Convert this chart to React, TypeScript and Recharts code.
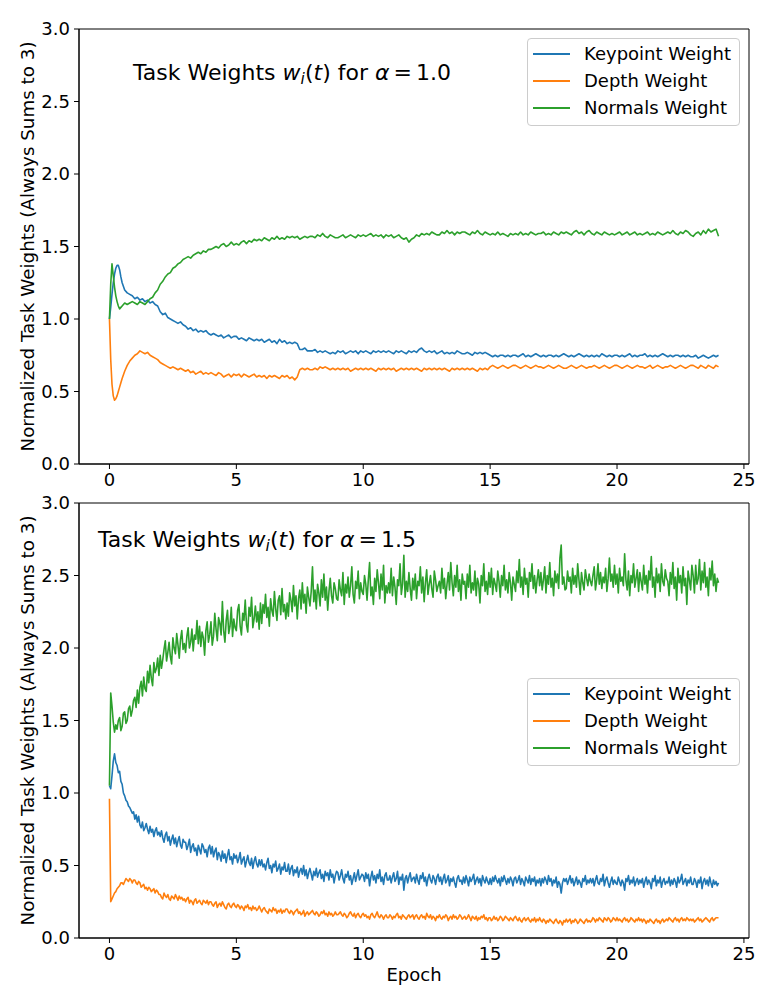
import React from "react"
import { LineChart, Line, XAxis, YAxis, ReferenceArea } from "recharts"

// ---- α = 1.0 run (top panel) ----
const TOP_EPOCHS = [
  0, 0.05, 0.1, 0.15, 0.2, 0.25, 0.3, 0.35, 0.4, 0.45, 0.5, 0.6, 0.7, 0.8, 0.9,
  1, 1.1, 1.2, 1.3, 1.4, 1.5, 1.6, 1.7, 1.8, 1.9,
  2, 2.1, 2.2, 2.3, 2.4, 2.5, 2.6, 2.7, 2.8, 2.9,
  3, 3.1, 3.2, 3.3, 3.4, 3.5, 3.6, 3.7, 3.8, 3.9,
  4, 4.1, 4.2, 4.3, 4.4, 4.5, 4.6, 4.7, 4.8, 4.9,
  5, 5.1, 5.2, 5.3, 5.4, 5.5, 5.6, 5.7, 5.8, 5.9,
  6, 6.1, 6.2, 6.3, 6.4, 6.5, 6.6, 6.7, 6.8, 6.9,
  7, 7.1, 7.2, 7.3, 7.4, 7.5, 7.6, 7.7, 7.8, 7.9,
  8, 8.1, 8.2, 8.3, 8.4, 8.5, 8.6, 8.7, 8.8, 8.9,
  9, 9.1, 9.2, 9.3, 9.4, 9.5, 9.6, 9.7, 9.8, 9.9,
  10, 10.1, 10.2, 10.3, 10.4, 10.5, 10.6, 10.7, 10.8, 10.9,
  11, 11.1, 11.2, 11.3, 11.4, 11.5, 11.6, 11.7, 11.8, 11.9,
  12, 12.1, 12.2, 12.3, 12.4, 12.5, 12.6, 12.7, 12.8, 12.9,
  13, 13.1, 13.2, 13.3, 13.4, 13.5, 13.6, 13.7, 13.8, 13.9,
  14, 14.1, 14.2, 14.3, 14.4, 14.5, 14.6, 14.7, 14.8, 14.9,
  15, 15.1, 15.2, 15.3, 15.4, 15.5, 15.6, 15.7, 15.8, 15.9,
  16, 16.1, 16.2, 16.3, 16.4, 16.5, 16.6, 16.7, 16.8, 16.9,
  17, 17.1, 17.2, 17.3, 17.4, 17.5, 17.6, 17.7, 17.8, 17.9,
  18, 18.1, 18.2, 18.3, 18.4, 18.5, 18.6, 18.7, 18.8, 18.9,
  19, 19.1, 19.2, 19.3, 19.4, 19.5, 19.6, 19.7, 19.8, 19.9,
  20, 20.1, 20.2, 20.3, 20.4, 20.5, 20.6, 20.7, 20.8, 20.9,
  21, 21.1, 21.2, 21.3, 21.4, 21.5, 21.6, 21.7, 21.8, 21.9,
  22, 22.1, 22.2, 22.3, 22.4, 22.5, 22.6, 22.7, 22.8, 22.9,
  23, 23.1, 23.2, 23.3, 23.4, 23.5, 23.6, 23.7, 23.8, 23.9,
  24,
]

const TOP_KEYPOINT = [
  1.0, 1.08, 1.17, 1.25, 1.31, 1.35, 1.37, 1.37, 1.34, 1.29, 1.25, 1.2, 1.18, 1.17, 1.16,
  1.14, 1.15, 1.13, 1.14, 1.12, 1.13, 1.11, 1.12, 1.1, 1.09,
  1.05, 1.03, 1.04, 1.01, 1.0, 0.99, 0.98, 0.97, 0.98, 0.96,
  0.95, 0.93, 0.94, 0.92, 0.93, 0.91, 0.92, 0.91, 0.92, 0.9,
  0.89, 0.9, 0.89, 0.88, 0.89, 0.87, 0.88, 0.89, 0.87, 0.88,
  0.88, 0.86, 0.87, 0.86, 0.85, 0.87, 0.86, 0.85, 0.86, 0.85,
  0.86, 0.84, 0.85, 0.86, 0.84, 0.85, 0.83, 0.86, 0.84, 0.85,
  0.83, 0.84, 0.83, 0.84, 0.83, 0.79, 0.79, 0.8, 0.78, 0.78,
  0.78, 0.79, 0.77, 0.78, 0.77, 0.78, 0.77, 0.76, 0.77, 0.76,
  0.78, 0.77, 0.78, 0.76, 0.77, 0.78, 0.77, 0.78, 0.76, 0.78,
  0.77, 0.78, 0.77, 0.76, 0.78, 0.77, 0.78, 0.77, 0.78, 0.77,
  0.78, 0.77, 0.76, 0.78, 0.77, 0.78, 0.77, 0.76, 0.78, 0.77,
  0.78, 0.77, 0.79, 0.8, 0.78, 0.77, 0.78, 0.77, 0.78, 0.76,
  0.77, 0.78, 0.76, 0.77, 0.76, 0.77, 0.76, 0.78, 0.77, 0.76,
  0.76, 0.77, 0.76, 0.75, 0.77, 0.76, 0.77, 0.76, 0.77, 0.76,
  0.75, 0.74, 0.75, 0.74, 0.75, 0.75, 0.74, 0.75, 0.74, 0.75,
  0.75, 0.74, 0.75, 0.76, 0.74, 0.75, 0.74, 0.75, 0.76, 0.75,
  0.74, 0.75, 0.74, 0.75, 0.75, 0.74, 0.75, 0.74, 0.75, 0.76,
  0.75, 0.74, 0.75, 0.74, 0.75, 0.76, 0.75, 0.74, 0.75, 0.74,
  0.75, 0.74, 0.75, 0.74, 0.76, 0.75, 0.74, 0.75, 0.74, 0.75,
  0.75, 0.74, 0.75, 0.74, 0.75, 0.76, 0.74, 0.75, 0.74, 0.75,
  0.75, 0.76, 0.74, 0.75, 0.74, 0.75, 0.74, 0.75, 0.76, 0.75,
  0.74, 0.75, 0.74, 0.75, 0.75, 0.74, 0.75, 0.74, 0.75, 0.74,
  0.74, 0.75, 0.73, 0.74, 0.75, 0.74, 0.73, 0.74, 0.75, 0.74,
  0.75,
]

const TOP_DEPTH = [
  1.0, 0.72, 0.55, 0.47, 0.44, 0.45, 0.47, 0.5, 0.53, 0.56, 0.59, 0.64, 0.68, 0.71, 0.73,
  0.75, 0.76, 0.78, 0.77, 0.76, 0.77, 0.75, 0.74, 0.73, 0.72,
  0.7, 0.69, 0.68, 0.67, 0.66, 0.67, 0.66, 0.65, 0.66, 0.65,
  0.64, 0.65, 0.63, 0.64, 0.62, 0.63, 0.64, 0.62, 0.63, 0.62,
  0.63, 0.62, 0.61, 0.63, 0.62, 0.6, 0.61, 0.62, 0.6, 0.62,
  0.61, 0.62, 0.6, 0.62, 0.61, 0.6, 0.61, 0.62, 0.6, 0.61,
  0.6, 0.61, 0.59, 0.61, 0.6, 0.61, 0.6, 0.59, 0.61, 0.6,
  0.61, 0.59, 0.6, 0.58, 0.6, 0.65, 0.66, 0.65, 0.66, 0.65,
  0.65, 0.66, 0.65, 0.67, 0.66, 0.67, 0.66, 0.65, 0.66, 0.65,
  0.66, 0.65, 0.66, 0.65, 0.66, 0.64, 0.65, 0.66, 0.65, 0.66,
  0.65, 0.66, 0.65, 0.66, 0.65, 0.64, 0.66, 0.65, 0.66, 0.65,
  0.66, 0.65, 0.66, 0.64, 0.65, 0.66, 0.65, 0.66, 0.65, 0.66,
  0.65, 0.66, 0.65, 0.64, 0.66, 0.65, 0.66, 0.65, 0.66, 0.65,
  0.66, 0.65, 0.66, 0.65, 0.64, 0.66, 0.65, 0.66, 0.65, 0.66,
  0.65, 0.66, 0.65, 0.66, 0.65, 0.64, 0.66, 0.65, 0.66, 0.65,
  0.67, 0.68, 0.67, 0.66, 0.67, 0.68, 0.67, 0.66, 0.67, 0.68,
  0.68, 0.67, 0.66, 0.67, 0.68, 0.67, 0.66, 0.67, 0.68, 0.67,
  0.67, 0.66, 0.67, 0.68, 0.67, 0.66, 0.67, 0.68, 0.67, 0.66,
  0.66, 0.67, 0.68, 0.67, 0.66, 0.67, 0.68, 0.67, 0.66, 0.67,
  0.67, 0.68, 0.67, 0.66, 0.67, 0.68, 0.67, 0.66, 0.67, 0.68,
  0.68, 0.67, 0.66, 0.67, 0.68, 0.67, 0.66, 0.67, 0.68, 0.67,
  0.67, 0.66, 0.67, 0.68, 0.66, 0.67, 0.68, 0.67, 0.66, 0.67,
  0.67, 0.68, 0.67, 0.66, 0.67, 0.68, 0.67, 0.66, 0.67, 0.68,
  0.68, 0.67, 0.66, 0.68, 0.67, 0.66, 0.68, 0.67, 0.66, 0.68,
  0.67,
]

const TOP_NORMALS = [
  1.0, 1.24, 1.38, 1.3, 1.22, 1.16, 1.12, 1.09, 1.07, 1.08, 1.09, 1.11, 1.1, 1.11, 1.12,
  1.11, 1.1, 1.12, 1.11, 1.1, 1.12, 1.14, 1.15, 1.18, 1.2,
  1.24, 1.26, 1.29, 1.31, 1.32, 1.35, 1.36, 1.38, 1.39, 1.41,
  1.42, 1.43, 1.42, 1.44, 1.45, 1.46, 1.45, 1.47, 1.46, 1.48,
  1.48, 1.49, 1.5, 1.49, 1.51, 1.52, 1.5, 1.51, 1.53, 1.51,
  1.52, 1.51, 1.53, 1.54, 1.52, 1.54, 1.53, 1.55, 1.54, 1.55,
  1.54, 1.56, 1.55, 1.54, 1.56, 1.55, 1.57, 1.55, 1.56, 1.55,
  1.57, 1.56, 1.57, 1.56, 1.57, 1.55, 1.56, 1.57, 1.56, 1.57,
  1.57, 1.56, 1.58, 1.57, 1.59, 1.57, 1.56, 1.58, 1.57, 1.56,
  1.56, 1.57, 1.58, 1.56, 1.57, 1.58, 1.57, 1.56, 1.58, 1.57,
  1.58, 1.57, 1.58, 1.59, 1.57, 1.58, 1.57, 1.58, 1.56, 1.58,
  1.57, 1.58, 1.56, 1.57, 1.58, 1.56, 1.55, 1.56, 1.53, 1.55,
  1.56, 1.58, 1.57, 1.59, 1.58, 1.59, 1.58, 1.6, 1.59, 1.58,
  1.58, 1.6, 1.59, 1.61, 1.59, 1.6, 1.58, 1.6, 1.59, 1.6,
  1.6, 1.59, 1.58, 1.6, 1.59, 1.61, 1.59, 1.58, 1.6, 1.59,
  1.58, 1.59, 1.58, 1.6, 1.58, 1.59, 1.58, 1.57, 1.59, 1.58,
  1.59, 1.58, 1.6, 1.58, 1.59, 1.58, 1.6, 1.59, 1.58, 1.59,
  1.59, 1.6, 1.58, 1.59, 1.58, 1.6, 1.59, 1.58, 1.6, 1.59,
  1.6, 1.59, 1.58, 1.6, 1.61, 1.59, 1.6, 1.58, 1.6, 1.61,
  1.59, 1.58, 1.6, 1.59, 1.58, 1.6, 1.59, 1.58, 1.59, 1.58,
  1.59, 1.6, 1.58, 1.59, 1.6, 1.58, 1.59, 1.6, 1.58, 1.59,
  1.58, 1.59, 1.6, 1.58, 1.59, 1.58, 1.6, 1.59, 1.58, 1.59,
  1.6, 1.59, 1.61, 1.59, 1.58, 1.6, 1.59, 1.61, 1.6, 1.58,
  1.57, 1.59, 1.6, 1.58, 1.61, 1.59, 1.62, 1.6, 1.61, 1.62,
  1.57,
]

// ---- α = 1.5 run (bottom panel) ----
const BOTTOM_EPOCHS = [
  0, 0.05, 0.1, 0.15, 0.2, 0.25, 0.3, 0.35, 0.4, 0.45, 0.5, 0.55, 0.6, 0.65, 0.7, 0.75, 0.8, 0.85, 0.9, 0.95,
  1, 1.05, 1.1, 1.15, 1.2, 1.25, 1.3, 1.35, 1.4, 1.45, 1.5, 1.55, 1.6, 1.65, 1.7, 1.75, 1.8, 1.85, 1.9, 1.95,
  2, 2.05, 2.1, 2.15, 2.2, 2.25, 2.3, 2.35, 2.4, 2.45, 2.5, 2.55, 2.6, 2.65, 2.7, 2.75, 2.8, 2.85, 2.9, 2.95,
  3, 3.05, 3.1, 3.15, 3.2, 3.25, 3.3, 3.35, 3.4, 3.45, 3.5, 3.55, 3.6, 3.65, 3.7, 3.75, 3.8, 3.85, 3.9, 3.95,
  4, 4.05, 4.1, 4.15, 4.2, 4.25, 4.3, 4.35, 4.4, 4.45, 4.5, 4.55, 4.6, 4.65, 4.7, 4.75, 4.8, 4.85, 4.9, 4.95,
  5, 5.05, 5.1, 5.15, 5.2, 5.25, 5.3, 5.35, 5.4, 5.45, 5.5, 5.55, 5.6, 5.65, 5.7, 5.75, 5.8, 5.85, 5.9, 5.95,
  6, 6.05, 6.1, 6.15, 6.2, 6.25, 6.3, 6.35, 6.4, 6.45, 6.5, 6.55, 6.6, 6.65, 6.7, 6.75, 6.8, 6.85, 6.9, 6.95,
  7, 7.05, 7.1, 7.15, 7.2, 7.25, 7.3, 7.35, 7.4, 7.45, 7.5, 7.55, 7.6, 7.65, 7.7, 7.75, 7.8, 7.85, 7.9, 7.95,
  8, 8.05, 8.1, 8.15, 8.2, 8.25, 8.3, 8.35, 8.4, 8.45, 8.5, 8.55, 8.6, 8.65, 8.7, 8.75, 8.8, 8.85, 8.9, 8.95,
  9, 9.05, 9.1, 9.15, 9.2, 9.25, 9.3, 9.35, 9.4, 9.45, 9.5, 9.55, 9.6, 9.65, 9.7, 9.75, 9.8, 9.85, 9.9, 9.95,
  10, 10.05, 10.1, 10.15, 10.2, 10.25, 10.3, 10.35, 10.4, 10.45, 10.5, 10.55, 10.6, 10.65, 10.7, 10.75, 10.8, 10.85, 10.9, 10.95,
  11, 11.05, 11.1, 11.15, 11.2, 11.25, 11.3, 11.35, 11.4, 11.45, 11.5, 11.55, 11.6, 11.65, 11.7, 11.75, 11.8, 11.85, 11.9, 11.95,
  12, 12.05, 12.1, 12.15, 12.2, 12.25, 12.3, 12.35, 12.4, 12.45, 12.5, 12.55, 12.6, 12.65, 12.7, 12.75, 12.8, 12.85, 12.9, 12.95,
  13, 13.05, 13.1, 13.15, 13.2, 13.25, 13.3, 13.35, 13.4, 13.45, 13.5, 13.55, 13.6, 13.65, 13.7, 13.75, 13.8, 13.85, 13.9, 13.95,
  14, 14.05, 14.1, 14.15, 14.2, 14.25, 14.3, 14.35, 14.4, 14.45, 14.5, 14.55, 14.6, 14.65, 14.7, 14.75, 14.8, 14.85, 14.9, 14.95,
  15, 15.05, 15.1, 15.15, 15.2, 15.25, 15.3, 15.35, 15.4, 15.45, 15.5, 15.55, 15.6, 15.65, 15.7, 15.75, 15.8, 15.85, 15.9, 15.95,
  16, 16.05, 16.1, 16.15, 16.2, 16.25, 16.3, 16.35, 16.4, 16.45, 16.5, 16.55, 16.6, 16.65, 16.7, 16.75, 16.8, 16.85, 16.9, 16.95,
  17, 17.05, 17.1, 17.15, 17.2, 17.25, 17.3, 17.35, 17.4, 17.45, 17.5, 17.55, 17.6, 17.65, 17.7, 17.75, 17.8, 17.85, 17.9, 17.95,
  18, 18.05, 18.1, 18.15, 18.2, 18.25, 18.3, 18.35, 18.4, 18.45, 18.5, 18.55, 18.6, 18.65, 18.7, 18.75, 18.8, 18.85, 18.9, 18.95,
  19, 19.05, 19.1, 19.15, 19.2, 19.25, 19.3, 19.35, 19.4, 19.45, 19.5, 19.55, 19.6, 19.65, 19.7, 19.75, 19.8, 19.85, 19.9, 19.95,
  20, 20.05, 20.1, 20.15, 20.2, 20.25, 20.3, 20.35, 20.4, 20.45, 20.5, 20.55, 20.6, 20.65, 20.7, 20.75, 20.8, 20.85, 20.9, 20.95,
  21, 21.05, 21.1, 21.15, 21.2, 21.25, 21.3, 21.35, 21.4, 21.45, 21.5, 21.55, 21.6, 21.65, 21.7, 21.75, 21.8, 21.85, 21.9, 21.95,
  22, 22.05, 22.1, 22.15, 22.2, 22.25, 22.3, 22.35, 22.4, 22.45, 22.5, 22.55, 22.6, 22.65, 22.7, 22.75, 22.8, 22.85, 22.9, 22.95,
  23, 23.05, 23.1, 23.15, 23.2, 23.25, 23.3, 23.35, 23.4, 23.45, 23.5, 23.55, 23.6, 23.65, 23.7, 23.75, 23.8, 23.85, 23.9, 23.95,
  24,
]

const BOTTOM_KEYPOINT = [
  1.05, 1.03, 1.12, 1.22, 1.27, 1.21, 1.19, 1.14, 1.15, 1.08, 1.06, 1.0, 0.98, 0.95, 0.94, 0.91, 0.9, 0.88, 0.86, 0.87,
  0.82, 0.85, 0.8, 0.84, 0.78, 0.76, 0.8, 0.74, 0.76, 0.79, 0.75, 0.72, 0.77, 0.73, 0.75, 0.7, 0.74, 0.76, 0.71, 0.73,
  0.7, 0.74, 0.69, 0.66, 0.71, 0.73, 0.67, 0.7, 0.64, 0.68, 0.71, 0.65, 0.69, 0.63, 0.67, 0.7, 0.64, 0.62, 0.68, 0.66,
  0.66, 0.61, 0.64, 0.68, 0.59, 0.63, 0.65, 0.6, 0.62, 0.57, 0.64, 0.61, 0.58, 0.65, 0.63, 0.59, 0.61, 0.56, 0.62, 0.64,
  0.58, 0.63, 0.56, 0.6, 0.62, 0.54, 0.59, 0.57, 0.53, 0.6, 0.55, 0.58, 0.52, 0.57, 0.61, 0.54, 0.56, 0.51, 0.58, 0.55,
  0.57, 0.52, 0.55, 0.59, 0.51, 0.54, 0.56, 0.49, 0.53, 0.57, 0.52, 0.5, 0.55, 0.48, 0.53, 0.56, 0.51, 0.49, 0.54, 0.5,
  0.54, 0.49, 0.51, 0.47, 0.52, 0.55, 0.48, 0.5, 0.45, 0.51, 0.49, 0.53, 0.46, 0.48, 0.51, 0.44, 0.49, 0.47, 0.52, 0.46,
  0.46, 0.51, 0.44, 0.48, 0.5, 0.43, 0.47, 0.45, 0.49, 0.42, 0.46, 0.48, 0.44, 0.5, 0.43, 0.47, 0.41, 0.45, 0.48, 0.44,
  0.4, 0.46, 0.43, 0.48, 0.42, 0.45, 0.47, 0.41, 0.44, 0.39, 0.46, 0.43, 0.45, 0.4, 0.47, 0.42, 0.44, 0.38, 0.43, 0.46,
  0.45, 0.4, 0.43, 0.47, 0.41, 0.38, 0.44, 0.42, 0.46, 0.4, 0.43, 0.37, 0.41, 0.45, 0.39, 0.43, 0.47, 0.4, 0.42, 0.44,
  0.43, 0.39, 0.45, 0.41, 0.44, 0.36, 0.42, 0.46, 0.4, 0.43, 0.38, 0.44, 0.41, 0.47, 0.39, 0.42, 0.37, 0.43, 0.45, 0.4,
  0.4, 0.43, 0.38, 0.42, 0.45, 0.39, 0.41, 0.46, 0.37, 0.42, 0.4, 0.44, 0.33, 0.41, 0.43, 0.38, 0.42, 0.45, 0.39, 0.41,
  0.42, 0.38, 0.44, 0.4, 0.37, 0.43, 0.41, 0.45, 0.39, 0.42, 0.36, 0.41, 0.44, 0.4, 0.38, 0.43, 0.41, 0.37, 0.42, 0.44,
  0.39, 0.42, 0.37, 0.41, 0.44, 0.38, 0.4, 0.43, 0.36, 0.41, 0.39, 0.42, 0.38, 0.35, 0.41, 0.43, 0.39, 0.4, 0.37, 0.42,
  0.38, 0.43, 0.4, 0.36, 0.42, 0.39, 0.41, 0.44, 0.37, 0.4, 0.42, 0.38, 0.41, 0.36, 0.43, 0.4, 0.38, 0.42, 0.39, 0.37,
  0.41, 0.37, 0.42, 0.39, 0.43, 0.4, 0.38, 0.41, 0.36, 0.42, 0.39, 0.43, 0.4, 0.37, 0.41, 0.38, 0.42, 0.4, 0.36, 0.41,
  0.42, 0.38, 0.4, 0.43, 0.37, 0.41, 0.39, 0.36, 0.42, 0.4, 0.38, 0.43, 0.37, 0.41, 0.39, 0.42, 0.36, 0.4, 0.38, 0.41,
  0.36, 0.41, 0.38, 0.42, 0.4, 0.37, 0.43, 0.39, 0.41, 0.36, 0.4, 0.38, 0.42, 0.35, 0.39, 0.37, 0.31, 0.38, 0.41, 0.39,
  0.41, 0.37, 0.4, 0.43, 0.38, 0.41, 0.36, 0.39, 0.42, 0.37, 0.4, 0.38, 0.35, 0.41, 0.39, 0.43, 0.37, 0.4, 0.38, 0.41,
  0.38, 0.41, 0.36, 0.4, 0.43, 0.38, 0.37, 0.41, 0.39, 0.44, 0.36, 0.4, 0.42, 0.38, 0.35, 0.39, 0.42, 0.37, 0.4, 0.38,
  0.37, 0.42, 0.39, 0.36, 0.4, 0.38, 0.33, 0.41, 0.39, 0.43, 0.37, 0.4, 0.38, 0.42, 0.36, 0.39, 0.41, 0.37, 0.4, 0.38,
  0.41, 0.35, 0.39, 0.42, 0.37, 0.4, 0.38, 0.34, 0.41, 0.39, 0.43, 0.36, 0.4, 0.38, 0.42, 0.35, 0.39, 0.41, 0.37, 0.39,
  0.38, 0.42, 0.36, 0.4, 0.37, 0.41, 0.39, 0.35, 0.42, 0.38, 0.4, 0.44, 0.37, 0.39, 0.41, 0.36, 0.4, 0.38, 0.42, 0.37,
  0.37, 0.41, 0.39, 0.35, 0.4, 0.38, 0.42, 0.34, 0.39, 0.41, 0.37, 0.4, 0.36, 0.42, 0.38, 0.35, 0.4, 0.37, 0.39, 0.36,
  0.38,
]

const BOTTOM_DEPTH = [
  0.96, 0.25, 0.27, 0.29, 0.31, 0.32, 0.34, 0.35, 0.36, 0.38, 0.38, 0.37, 0.39, 0.41, 0.4, 0.39, 0.41, 0.4, 0.38, 0.4,
  0.4, 0.38, 0.37, 0.39, 0.38, 0.35, 0.36, 0.37, 0.34, 0.35, 0.33, 0.35, 0.34, 0.32, 0.33, 0.34, 0.31, 0.33, 0.32, 0.3,
  0.3, 0.28, 0.27, 0.31, 0.29, 0.28, 0.3, 0.27, 0.26, 0.29, 0.28, 0.27, 0.3, 0.28, 0.26, 0.29, 0.27, 0.28, 0.26, 0.27,
  0.25, 0.27, 0.28, 0.24, 0.26, 0.25, 0.23, 0.26, 0.27, 0.24, 0.25, 0.26, 0.24, 0.23, 0.26, 0.25, 0.24, 0.26, 0.23, 0.25,
  0.25, 0.23, 0.22, 0.24, 0.25, 0.21, 0.23, 0.24, 0.22, 0.25, 0.23, 0.21, 0.2, 0.23, 0.24, 0.22, 0.21, 0.23, 0.24, 0.22,
  0.21, 0.23, 0.22, 0.2, 0.22, 0.21, 0.19, 0.22, 0.21, 0.23, 0.2, 0.21, 0.19, 0.22, 0.2, 0.21, 0.19, 0.2, 0.22, 0.2,
  0.18, 0.2, 0.21, 0.19, 0.18, 0.17, 0.2, 0.19, 0.18, 0.21, 0.19, 0.2, 0.17, 0.19, 0.18, 0.2, 0.17, 0.19, 0.18, 0.2,
  0.2, 0.18, 0.17, 0.19, 0.18, 0.16, 0.18, 0.19, 0.2, 0.17, 0.18, 0.16, 0.17, 0.19, 0.15, 0.17, 0.18, 0.16, 0.17, 0.18,
  0.19, 0.17, 0.16, 0.18, 0.17, 0.15, 0.16, 0.18, 0.17, 0.19, 0.16, 0.17, 0.15, 0.18, 0.16, 0.17, 0.15, 0.16, 0.18, 0.16,
  0.16, 0.17, 0.18, 0.16, 0.15, 0.17, 0.16, 0.14, 0.15, 0.17, 0.18, 0.16, 0.15, 0.17, 0.14, 0.16, 0.17, 0.15, 0.14, 0.16,
  0.17, 0.15, 0.16, 0.14, 0.15, 0.13, 0.16, 0.17, 0.15, 0.14, 0.16, 0.18, 0.15, 0.14, 0.16, 0.15, 0.13, 0.15, 0.16, 0.14,
  0.14, 0.16, 0.15, 0.13, 0.15, 0.14, 0.16, 0.17, 0.14, 0.15, 0.13, 0.16, 0.15, 0.14, 0.13, 0.15, 0.16, 0.14, 0.15, 0.16,
  0.13, 0.15, 0.16, 0.14, 0.13, 0.15, 0.16, 0.14, 0.15, 0.13, 0.17, 0.15, 0.14, 0.16, 0.13, 0.15, 0.14, 0.12, 0.15, 0.14,
  0.16, 0.14, 0.13, 0.15, 0.14, 0.16, 0.15, 0.12, 0.14, 0.15, 0.13, 0.16, 0.14, 0.15, 0.13, 0.14, 0.16, 0.15, 0.13, 0.14,
  0.15, 0.13, 0.14, 0.16, 0.14, 0.12, 0.15, 0.14, 0.13, 0.15, 0.12, 0.14, 0.13, 0.15, 0.14, 0.16, 0.13, 0.14, 0.12, 0.14,
  0.14, 0.12, 0.13, 0.15, 0.13, 0.14, 0.12, 0.13, 0.15, 0.14, 0.12, 0.13, 0.15, 0.14, 0.13, 0.12, 0.14, 0.13, 0.12, 0.14,
  0.15, 0.13, 0.12, 0.14, 0.12, 0.11, 0.13, 0.14, 0.12, 0.13, 0.14, 0.12, 0.11, 0.13, 0.12, 0.14, 0.11, 0.13, 0.12, 0.14,
  0.12, 0.11, 0.13, 0.12, 0.1, 0.12, 0.11, 0.13, 0.12, 0.11, 0.1, 0.12, 0.13, 0.11, 0.1, 0.12, 0.11, 0.09, 0.12, 0.11,
  0.13, 0.11, 0.12, 0.13, 0.1, 0.12, 0.11, 0.13, 0.12, 0.1, 0.11, 0.13, 0.12, 0.11, 0.1, 0.12, 0.13, 0.11, 0.12, 0.11,
  0.12, 0.14, 0.13, 0.11, 0.13, 0.12, 0.14, 0.13, 0.12, 0.11, 0.14, 0.13, 0.12, 0.14, 0.13, 0.11, 0.12, 0.14, 0.13, 0.12,
  0.14, 0.12, 0.13, 0.12, 0.11, 0.13, 0.14, 0.12, 0.13, 0.11, 0.12, 0.14, 0.13, 0.12, 0.11, 0.13, 0.12, 0.14, 0.12, 0.13,
  0.11, 0.13, 0.12, 0.1, 0.12, 0.11, 0.13, 0.12, 0.11, 0.1, 0.12, 0.13, 0.11, 0.12, 0.1, 0.12, 0.13, 0.11, 0.12, 0.13,
  0.12, 0.14, 0.13, 0.12, 0.11, 0.13, 0.14, 0.12, 0.13, 0.11, 0.13, 0.14, 0.12, 0.13, 0.12, 0.14, 0.13, 0.12, 0.13, 0.12,
  0.13, 0.11, 0.12, 0.13, 0.14, 0.12, 0.13, 0.11, 0.12, 0.13, 0.14, 0.13, 0.12, 0.11, 0.13, 0.14, 0.12, 0.13, 0.14, 0.14,
  0.14,
]

const BOTTOM_NORMALS = [
  1.05, 1.69, 1.6, 1.49, 1.42, 1.47, 1.44, 1.5, 1.52, 1.43, 1.46, 1.55, 1.56, 1.48, 1.5, 1.58, 1.6, 1.53, 1.57, 1.64,
  1.66, 1.59, 1.71, 1.62, 1.73, 1.77, 1.67, 1.8, 1.72, 1.7, 1.84, 1.76, 1.88, 1.79, 1.74, 1.9, 1.83, 1.86, 1.93, 1.81,
  1.95, 1.86, 1.92, 1.99, 2.05, 1.91, 1.97, 2.04, 1.94, 1.89, 2.07, 2.0, 1.96, 2.1, 2.02, 1.93, 2.06, 2.12, 1.99, 2.03,
  1.97, 2.08, 2.14, 2.0, 2.04, 2.13, 1.98, 2.09, 2.06, 2.19, 2.03, 2.15, 2.01, 2.11, 2.07, 1.95, 2.12, 2.18, 2.04, 2.09,
  2.18, 2.02, 2.08, 2.24, 2.13, 2.05, 2.21, 2.17, 2.09, 2.32, 2.12, 2.04, 2.19, 2.26, 2.1, 2.15, 2.28, 2.08, 2.2, 2.14,
  2.12, 2.26, 2.3, 2.15, 2.09, 2.24, 2.19, 2.33, 2.16, 2.11, 2.28, 2.22, 2.35, 2.14, 2.2, 2.29, 2.18, 2.25, 2.13, 2.31,
  2.17, 2.3, 2.24, 2.37, 2.21, 2.28, 2.15, 2.34, 2.26, 2.22, 2.39, 2.27, 2.19, 2.33, 2.36, 2.23, 2.41, 2.25, 2.3, 2.2,
  2.31, 2.22, 2.38, 2.33, 2.25, 2.43, 2.29, 2.36, 2.2, 2.34, 2.4, 2.27, 2.45, 2.31, 2.37, 2.24, 2.42, 2.35, 2.29, 2.39,
  2.56, 2.32, 2.4, 2.27, 2.44, 2.38, 2.29, 2.47, 2.35, 2.51, 2.33, 2.42, 2.26, 2.39, 2.48, 2.36, 2.31, 2.45, 2.41, 2.34,
  2.33, 2.47, 2.4, 2.36, 2.52, 2.3, 2.44, 2.38, 2.49, 2.35, 2.43, 2.56, 2.37, 2.31, 2.46, 2.41, 2.53, 2.34, 2.45, 2.39,
  2.37, 2.5, 2.44, 2.33, 2.47, 2.59, 2.36, 2.42, 2.3, 2.48, 2.39, 2.54, 2.45, 2.34, 2.51, 2.4, 2.57, 2.31, 2.43, 2.38,
  2.45, 2.38, 2.55, 2.36, 2.49, 2.42, 2.3, 2.47, 2.43, 2.58, 2.37, 2.44, 2.64, 2.35, 2.46, 2.39, 2.52, 2.41, 2.33, 2.48,
  2.4, 2.51, 2.34, 2.46, 2.43, 2.56, 2.38, 2.49, 2.32, 2.45, 2.54, 2.37, 2.44, 2.5, 2.41, 2.35, 2.53, 2.47, 2.39, 2.43,
  2.46, 2.38, 2.55, 2.41, 2.48, 2.34, 2.44, 2.52, 2.4, 2.59, 2.45, 2.36, 2.5, 2.42, 2.57, 2.39, 2.47, 2.33, 2.51, 2.44,
  2.46, 2.34, 2.51, 2.42, 2.57, 2.38, 2.45, 2.4, 2.53, 2.36, 2.48, 2.44, 2.31, 2.5, 2.43, 2.58, 2.39, 2.46, 2.37, 2.52,
  2.42, 2.55, 2.37, 2.48, 2.44, 2.39, 2.53, 2.46, 2.35, 2.5, 2.43, 2.57, 2.4, 2.47, 2.38, 2.52, 2.45, 2.33, 2.49, 2.44,
  2.39, 2.53, 2.45, 2.61, 2.42, 2.49, 2.37, 2.55, 2.44, 2.48, 2.35, 2.52, 2.46, 2.58, 2.41, 2.5, 2.38, 2.47, 2.54, 2.43,
  2.52, 2.4, 2.47, 2.56, 2.38, 2.5, 2.44, 2.59, 2.42, 2.48, 2.36, 2.53, 2.45, 2.51, 2.41, 2.62, 2.71, 2.44, 2.49, 2.4,
  2.41, 2.53, 2.46, 2.49, 2.38, 2.55, 2.44, 2.5, 2.42, 2.58, 2.47, 2.37, 2.52, 2.45, 2.4, 2.54, 2.48, 2.43, 2.51, 2.46,
  2.43, 2.5, 2.56, 2.4, 2.47, 2.58, 2.44, 2.52, 2.41, 2.49, 2.45, 2.55, 2.39, 2.48, 2.62, 2.46, 2.51, 2.42, 2.57, 2.44,
  2.51, 2.38, 2.55, 2.46, 2.49, 2.43, 2.65, 2.47, 2.4, 2.53, 2.36, 2.5, 2.45, 2.58, 2.42, 2.48, 2.54, 2.39, 2.52, 2.46,
  2.4, 2.57, 2.44, 2.5, 2.38, 2.53, 2.47, 2.63, 2.42, 2.49, 2.35, 2.55, 2.45, 2.51, 2.39, 2.58, 2.46, 2.43, 2.54, 2.48,
  2.46, 2.36, 2.52, 2.44, 2.59, 2.41, 2.49, 2.33, 2.55, 2.45, 2.5, 2.38, 2.56, 2.43, 2.48, 2.3, 2.53, 2.47, 2.4, 2.57,
  2.5, 2.38, 2.57, 2.44, 2.48, 2.61, 2.4, 2.53, 2.45, 2.59, 2.42, 2.49, 2.36, 2.55, 2.47, 2.6, 2.43, 2.51, 2.39, 2.48,
  2.45,
]

const X_TICKS = [0, 5, 10, 15, 20, 25]
const Y_TICKS = [0, 0.5, 1, 1.5, 2, 2.5, 3]
const SERIES = [
  { key: "keypoint", name: "Keypoint Weight", color: "#1f77b4" },
  { key: "depth", name: "Depth Weight", color: "#ff7f0e" },
  { key: "normals", name: "Normals Weight", color: "#2ca02c" },
]

const FONT = "'DejaVu Sans', sans-serif"
const Y_LABEL = "Normalized Task Weights (Always Sums to 3)"

const topData = TOP_EPOCHS.map((epoch, i) => ({
  epoch,
  keypoint: TOP_KEYPOINT[i],
  depth: TOP_DEPTH[i],
  normals: TOP_NORMALS[i],
}))

const bottomData = BOTTOM_EPOCHS.map((epoch, i) => ({
  epoch,
  keypoint: BOTTOM_KEYPOINT[i],
  depth: BOTTOM_DEPTH[i],
  normals: BOTTOM_NORMALS[i],
}))

const tickStyle = { fontSize: 18, fill: "#000", fontFamily: FONT }

function WeightLegend({ top }: { top: number }) {
  return (
    <div
      style={{
        position: "absolute",
        left: 527,
        top,
        width: 213,
        height: 88,
        boxSizing: "border-box",
        border: "1px solid #cccccc",
        borderRadius: 4,
        background: "rgba(255,255,255,0.8)",
        padding: "1px 0 0 5px",
        fontFamily: FONT,
        fontSize: 18,
        color: "#000",
      }}
    >
      {SERIES.map((s) => (
        <div key={s.key} style={{ height: 27, display: "flex", alignItems: "center" }}>
          <div style={{ width: 37, height: 2, background: s.color, marginRight: 14 }} />
          <span style={{ whiteSpace: "nowrap" }}>{s.name}</span>
        </div>
      ))}
    </div>
  )
}

function PanelTitle({ left, top, alpha }: { left: number; top: number; alpha: string }) {
  return (
    <div
      style={{
        position: "absolute",
        left,
        top,
        fontFamily: FONT,
        fontSize: 22,
        lineHeight: "22px",
        whiteSpace: "nowrap",
        color: "#000",
      }}
    >
      Task Weights <i>w</i>
      <i style={{ fontSize: 15.5, position: "relative", top: 4 }}>i</i>(<i>t</i>) for <i>α</i>
      <span style={{ margin: "0 4px" }}>=</span>
      {alpha}
    </div>
  )
}

function Panel({ data, height, xAxisHeight, epochLabel }: { data: any[]; height: number; xAxisHeight: number; epochLabel?: boolean }) {
  return (
    <LineChart width={774} height={height} data={data} margin={{ top: 29, right: 25, bottom: 0, left: 0 }}>
      <XAxis
        dataKey="epoch"
        type="number"
        domain={[-1.2, 25.2]}
        allowDataOverflow
        ticks={X_TICKS}
        height={xAxisHeight}
        tick={tickStyle}
        tickSize={5}
        tickMargin={4}
        stroke="#000"
        label={
          epochLabel
            ? { value: "Epoch", position: "insideBottom", offset: 24, style: { fontSize: 18, fill: "#000", fontFamily: FONT } }
            : undefined
        }
      />
      <YAxis
        type="number"
        domain={[0, 3]}
        ticks={Y_TICKS}
        width={79}
        tick={tickStyle}
        tickSize={5}
        tickMargin={4}
        stroke="#000"
        tickFormatter={(v: number) => v.toFixed(1)}
        label={{
          value: Y_LABEL,
          angle: -90,
          position: "center",
          dx: -11.5,
          style: { fontSize: 18.3, fill: "#000", fontFamily: FONT, textAnchor: "middle" },
        }}
      />
      <ReferenceArea x1={-1.2} x2={25.2} y1={0} y2={3} fill="none" stroke="#000" strokeWidth={1} ifOverflow="visible" />
      {SERIES.map((s) => (
        <Line
          key={s.key}
          dataKey={s.key}
          name={s.name}
          stroke={s.color}
          strokeWidth={1.6}
          dot={false}
          activeDot={false}
          isAnimationActive={false}
          strokeLinejoin="round"
        />
      ))}
    </LineChart>
  )
}

export default function App() {
  return (
    <div style={{ position: "absolute", left: 0, top: 0, width: 774, height: 1005, background: "#fff" }}>
      <div style={{ position: "absolute", left: 0, top: 0 }}>
        <Panel data={topData} height={500} xAxisHeight={36} />
      </div>
      <div style={{ position: "absolute", left: 0, top: 474 }}>
        <Panel data={bottomData} height={531} xAxisHeight={67} epochLabel />
      </div>
      <PanelTitle left={133} top={62} alpha="1.0" />
      <PanelTitle left={98} top={529} alpha="1.5" />
      <WeightLegend top={38} />
      <WeightLegend top={678} />
    </div>
  )
}
